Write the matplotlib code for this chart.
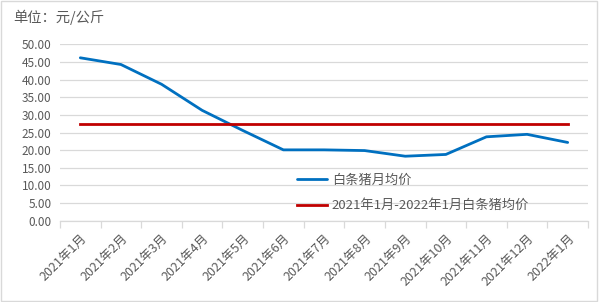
import matplotlib
matplotlib.use("Agg")
import matplotlib.pyplot as plt
from matplotlib.patches import Rectangle

plt.rcParams['font.family'] = ['Noto Sans CJK SC', 'DejaVu Sans']

categories = ["2021年1月", "2021年2月", "2021年3月", "2021年4月", "2021年5月", "2021年6月",
              "2021年7月", "2021年8月", "2021年9月", "2021年10月", "2021年11月", "2021年12月", "2022年1月"]
monthly_price = [46.2, 44.3, 38.7, 31.3, 25.6, 20.1, 20.1, 19.9, 18.3, 18.8, 23.8, 24.5, 22.2]
period_avg = 27.3
series_names = ["白条猪月均价", "2021年1月-2022年1月白条猪均价"]
yticks = [0, 5, 10, 15, 20, 25, 30, 35, 40, 45, 50]
ytick_labels = ["%.2f" % v for v in yticks]
unit_label = "单位：元/公斤"

gray = "#595959"
grid = "#d9d9d9"

fig = plt.figure(figsize=(6.0, 3.02), dpi=100)
ax = fig.add_axes([0.1, 0.269, 0.88, 0.584])

x = list(range(len(categories)))
ax.plot(x, monthly_price, color="#0070C0", lw=2.0, label=series_names[0], solid_capstyle='round')
ax.plot(x, [period_avg] * len(x), color="#C00000", lw=2.0, label=series_names[1])

ax.set_xlim(-0.5, len(categories) - 0.5)
ax.set_ylim(0, 50)
ax.set_yticks(yticks)
ax.set_yticklabels(ytick_labels, color=gray, fontsize=8.5)
ax.yaxis.grid(True, color=grid, lw=0.9)
ax.set_axisbelow(True)
ax.tick_params(axis='y', length=0, pad=6)

ax.set_xticks([i - 0.5 for i in range(len(categories) + 1)])
ax.set_xticklabels([])
ax.set_xticks(x, minor=True)
ax.set_xticklabels(categories, minor=True, rotation=45, ha='right', va='top',
                   rotation_mode='anchor', color=gray, fontsize=9)
ax.tick_params(axis='x', which='major', length=5, color=grid, width=0.9)
ax.tick_params(axis='x', which='minor', length=0, pad=8)

for s in ['left', 'right', 'top']:
    ax.spines[s].set_visible(False)
ax.spines['bottom'].set_color(grid)
ax.spines['bottom'].set_linewidth(0.9)

leg = fig.legend(loc='upper left', bbox_to_anchor=(0.495, 0.425), frameon=False,
                 fontsize=9.5, handlelength=2.3, handletextpad=0.35, labelspacing=0.95,
                 labelcolor=gray, borderaxespad=0, borderpad=0)

fig.text(13 / 600, 1 - 17 / 302, unit_label, color=gray, fontsize=10.3, va='center', ha='left')

fig.patches.append(Rectangle((0.002, 0.003), 0.993, 0.994, transform=fig.transFigure,
                             fill=False, edgecolor=grid, lw=1.0))

fig.savefig("out.png", dpi=100)
